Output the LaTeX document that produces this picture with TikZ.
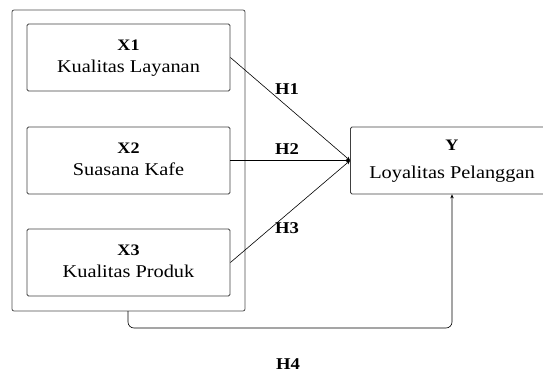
\documentclass[tikz,border=0pt]{standalone}
\usepackage{fontspec}
\setmainfont{Liberation Serif}[FakeStretch=1.13]
\usetikzlibrary{arrows.meta}
\begin{document}
\begin{tikzpicture}[x=1pt,y=1pt,
  varbox/.style={draw=black!75, line width=0.8pt, rounded corners=1.5pt, minimum width=203pt, minimum height=67pt, inner sep=0pt},
  ttl/.style={font=\fontsize{16}{18}\selectfont\bfseries, inner sep=0pt, anchor=base},
  sub/.style={font=\fontsize{18}{20}\selectfont, inner sep=0pt, anchor=base},
  hlab/.style={font=\fontsize{16.5}{18}\selectfont\bfseries, inner sep=0pt, anchor=base},
  conn/.style={draw=black, line width=0.6pt, -{Stealth[length=4pt,width=3.5pt]}}]
\useasboundingbox (0,0) rectangle (543,373);
\draw[draw=black!70, line width=0.8pt, rounded corners=2pt] (12,62) rectangle (245,363);
\coordinate (outerb) at (128,62);
\node[varbox] (x1) at (128.5,315.5) {};
\node[varbox] (x2) at (128.5,212.5) {};
\node[varbox] (x3) at (128.5,110.5) {};
\node[varbox] (y) at (452,212.5) {};
\node[ttl] (x1t) at ([yshift=7]x1.center) {X1};
\node[sub] (x1s) at ([yshift=-14.8]x1.center) {Kualitas Layanan};
\node[ttl] (x2t) at ([yshift=7]x2.center) {X2};
\node[sub] (x2s) at ([yshift=-14.8]x2.center) {Suasana Kafe};
\node[ttl] (x3t) at ([yshift=7]x3.center) {X3};
\node[sub] (x3s) at ([yshift=-14.8]x3.center) {Kualitas Produk};
\node[ttl] (yt) at ([yshift=10.5]y.center) {Y};
\node[sub] (ys) at ([yshift=-17.8]y.center) {Loyalitas Pelanggan};
\draw[conn] (x1.east) -- (y.west);
\draw[conn] (x2.east) -- (y.west);
\draw[conn] (x3.east) -- (y.west);
\draw[conn, rounded corners=6pt] (outerb) -- (128,45) -- (452,45) -- (y.south);
\node[hlab] (h1) at (287,278.5) {H1};
\node[hlab] (h2) at (287,218.5) {H2};
\node[hlab] (h3) at (287,139.5) {H3};
\node[hlab] (h4) at (288,4) {H4};
\end{tikzpicture}
\end{document}
